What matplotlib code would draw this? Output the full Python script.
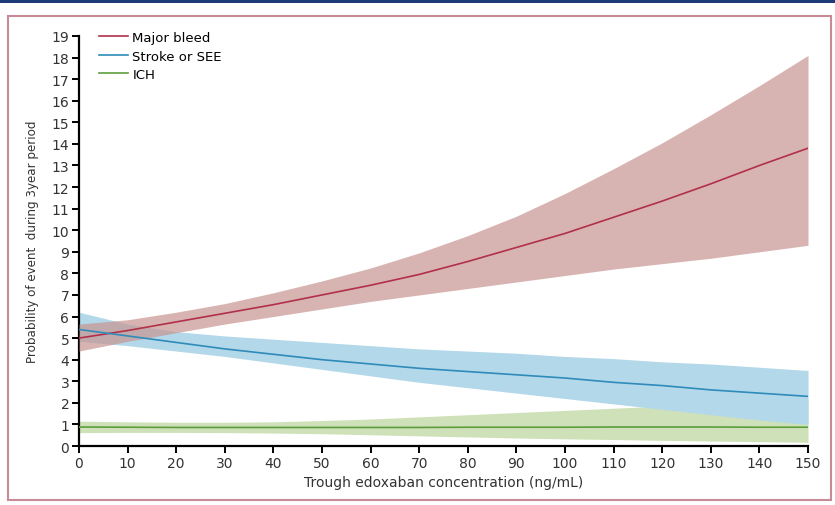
import matplotlib
matplotlib.use("Agg")
import matplotlib.pyplot as plt
from matplotlib.patches import Rectangle

plt.rcParams["font.family"] = "DejaVu Sans"

conc = [0, 10, 20, 30, 40, 50, 60, 70, 80, 90, 100, 110, 120, 130, 140, 150]

bleed = [5.0, 5.35, 5.75, 6.15, 6.55, 7.0, 7.45, 7.95, 8.55, 9.2, 9.85, 10.6, 11.35, 12.15, 13.0, 13.8]
bleed_lo = [4.4, 4.85, 5.25, 5.65, 6.0, 6.35, 6.7, 7.0, 7.3, 7.6, 7.9, 8.2, 8.45, 8.7, 9.0, 9.3]
bleed_hi = [5.65, 5.85, 6.2, 6.6, 7.1, 7.65, 8.25, 8.95, 9.75, 10.65, 11.7, 12.85, 14.05, 15.35, 16.7, 18.1]

stroke = [5.4, 5.1, 4.8, 4.5, 4.25, 4.0, 3.8, 3.6, 3.45, 3.3, 3.15, 2.95, 2.8, 2.6, 2.45, 2.3]
stroke_lo = [4.85, 4.65, 4.4, 4.15, 3.85, 3.55, 3.25, 2.95, 2.7, 2.45, 2.2, 1.95, 1.7, 1.45, 1.2, 1.0]
stroke_hi = [6.2, 5.65, 5.3, 5.1, 4.95, 4.8, 4.65, 4.5, 4.4, 4.3, 4.15, 4.05, 3.9, 3.8, 3.65, 3.5]

ich = [0.88, 0.87, 0.86, 0.86, 0.86, 0.86, 0.86, 0.86, 0.87, 0.87, 0.87, 0.88, 0.88, 0.88, 0.87, 0.87]
ich_lo = [0.62, 0.63, 0.63, 0.62, 0.6, 0.57, 0.52, 0.47, 0.42, 0.37, 0.33, 0.3, 0.26, 0.23, 0.2, 0.17]
ich_hi = [1.15, 1.12, 1.1, 1.1, 1.12, 1.18, 1.25, 1.35, 1.45, 1.55, 1.65, 1.75, 1.85, 1.95, 2.05, 2.15]

fig = plt.figure(figsize=(8.35, 5.06), dpi=100)
ax = fig.add_axes([0.0946, 0.1166, 0.8731, 0.8103])

# frame and top band
fig.patches.append(Rectangle((0, 1 - 4 / 506), 1, 4 / 506, transform=fig.transFigure,
                             facecolor="#1d3a78", edgecolor="none"))
fig.patches.append(Rectangle((8 / 835, 1 - 501 / 506), 823 / 835, 484 / 506,
                             transform=fig.transFigure, facecolor="none",
                             edgecolor="#c98a98", linewidth=1.5))

ax.fill_between(conc, ich_lo, ich_hi, color="#cfe1b9", lw=0, zorder=1)
ax.fill_between(conc, stroke_lo, stroke_hi, color="#b3d8e9", lw=0, zorder=2)
ax.fill_between(conc, bleed_lo, bleed_hi, color="#c79491", alpha=0.7, lw=0, zorder=3)

ax.plot(conc, bleed, color="#b23049", lw=1.2, label="Major bleed", zorder=5)
ax.plot(conc, stroke, color="#2f8bb9", lw=1.2, label="Stroke or SEE", zorder=5)
ax.plot(conc, ich, color="#5d9e3c", lw=1.2, label="ICH", zorder=5)

ax.set_xlim(0, 150)
ax.set_ylim(0, 19)
ax.set_xticks(range(0, 151, 10))
ax.set_yticks(range(0, 20))
for s in ["top", "right"]:
    ax.spines[s].set_visible(False)
for s in ["left", "bottom"]:
    ax.spines[s].set_linewidth(1.6)
ax.tick_params(length=5, width=1.4, labelsize=10, labelcolor="#333333", color="black", pad=2)

ax.set_xlabel("Trough edoxaban concentration (ng/mL)", fontsize=10, color="#333333", labelpad=4)
ax.set_ylabel("Probability of event  during 3year period", fontsize=8.6, color="#333333", labelpad=9)

ax.legend(loc="upper left", bbox_to_anchor=(0.02, 1.025), frameon=False, fontsize=9.5,
          handlelength=2.2, handletextpad=0.35, labelspacing=0.42, borderaxespad=0)

fig.savefig("out.png", dpi=100)
